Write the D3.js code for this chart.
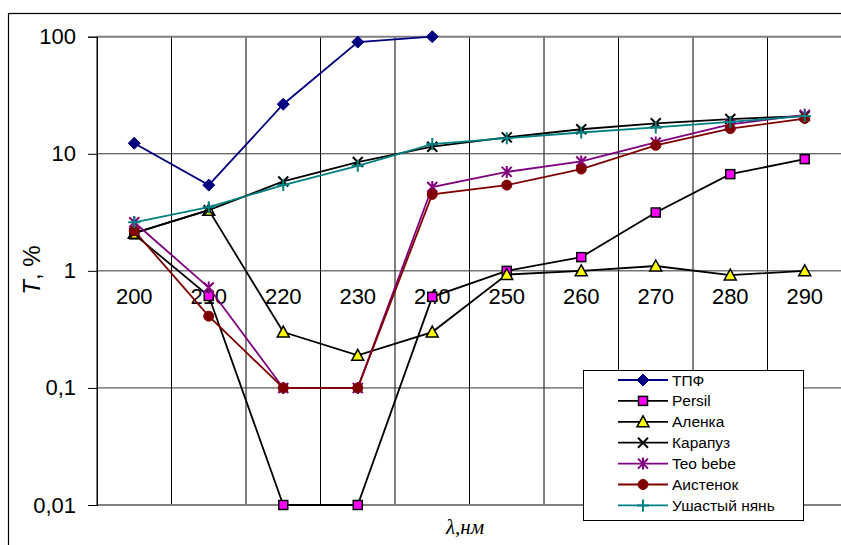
<!DOCTYPE html>
<html>
<head>
<meta charset="utf-8">
<script src="https://cdn.jsdelivr.net/npm/d3@7"></script>
<style>
  body { margin: 0; background: #fff; }
  svg { display: block; font-family: "Liberation Sans", Arial, sans-serif; }
</style>
</head>
<body>
<svg width="841" height="545"></svg>
<script>
// wavelengths, nm
var categories = [200, 210, 220, 230, 240, 250, 260, 270, 280, 290];
var yTicks = [0.01, 0.1, 1, 10, 100];

// transmission, %
var tpf      = [12.3, 5.4, 26.5, 90, 100, null, null, null, null, null];
var persil   = [2.05, 0.61, 0.01, 0.01, 0.6, 1.0, 1.31, 3.15, 6.7, 9.0];
var alenka   = [2.1, 3.3, 0.3, 0.19, 0.3, 0.93, 1.0, 1.1, 0.92, 1.0];
var karapuz  = [2.1, 3.3, 5.8, 8.5, 11.5, 13.8, 16.2, 18.2, 19.8, 21];
var teobebe  = [2.6, 0.72, 0.1, 0.1, 5.2, 7.0, 8.6, 12.5, 17.8, 21.5];
var aistenok = [2.2, 0.41, 0.1, 0.1, 4.5, 5.4, 7.4, 11.8, 16.4, 20];
var ushasty  = [2.6, 3.5, 5.4, 7.9, 12.1, 13.6, 15.2, 16.8, 18.7, 21];

var series = [
  { name: "ТПФ", values: tpf, line: "#000080", marker: "diamond", fill: "#000080", stroke: "#000080" },
  { name: "Persil", values: persil, line: "#000000", marker: "square", fill: "#ff00ff", stroke: "#000000" },
  { name: "Аленка", values: alenka, line: "#000000", marker: "triangle", fill: "#ffff00", stroke: "#000000" },
  { name: "Карапуз", values: karapuz, line: "#000000", marker: "x", fill: "none", stroke: "#000000" },
  { name: "Teo bebe", values: teobebe, line: "#800080", marker: "star", fill: "none", stroke: "#800080" },
  { name: "Аистенок", values: aistenok, line: "#800000", marker: "circle", fill: "#800000", stroke: "#800000" },
  { name: "Ушастый нянь", values: ushasty, line: "#008080", marker: "plus", fill: "none", stroke: "#008080" }
];

var svg = d3.select("svg");

// outer chart border (cut off on the right and bottom)
svg.append("rect")
  .attr("x", 8.5).attr("y", 13.5)
  .attr("width", 900).attr("height", 600)
  .attr("fill", "none").attr("stroke", "#000").attr("stroke-width", 1.2);

var pLeft = 97, pRight = 842, pTop = 36.7, pBottom = 505;

var x = d3.scaleBand().domain(categories).range([pLeft, pRight]);
var y = d3.scaleLog().domain([0.01, 100]).range([pBottom, pTop]);

var fmt = function(d) { return String(d).replace(".", ","); };

// vertical gridlines
var g = svg.append("g");
g.selectAll("line.v")
  .data(categories.concat(["end"]))
  .enter().append("line")
  .attr("x1", function(d, i) { return pLeft + i * x.bandwidth(); })
  .attr("x2", function(d, i) { return pLeft + i * x.bandwidth(); })
  .attr("y1", pTop).attr("y2", pBottom)
  .attr("stroke", "#000").attr("stroke-width", 1);

// horizontal gridlines
g.selectAll("line.h")
  .data(yTicks)
  .enter().append("line")
  .attr("x1", pLeft).attr("x2", pRight)
  .attr("y1", function(d) { return y(d); })
  .attr("y2", function(d) { return y(d); })
  .attr("stroke", function(d) { return (d == 100 || d == 0.01) ? "#808080" : "#333"; })
  .attr("stroke-width", function(d) { return (d == 100 || d == 0.01) ? 2 : 1; });

// y axis
var yAxis = d3.axisLeft(y).tickValues(yTicks).tickFormat(fmt).tickSize(9).tickPadding(12);
var ya = svg.append("g").attr("transform", "translate(" + pLeft + ",0)").call(yAxis);
ya.select(".domain").attr("stroke", "#000");
ya.selectAll("text").attr("font-size", 22).attr("font-family", "Liberation Sans, Arial, sans-serif").attr("fill", "#000");

// x axis labels sit under the 1 % line
var xAxis = d3.axisBottom(x).tickSize(0).tickPadding(18);
var xa = svg.append("g").attr("transform", "translate(0," + y(1) + ")").call(xAxis);
xa.select(".domain").remove();
xa.selectAll("text").attr("font-size", 22).attr("font-family", "Liberation Sans, Arial, sans-serif").attr("fill", "#000");

// axis titles
var yt = svg.append("text")
  .attr("transform", "translate(40,270) rotate(-90)")
  .attr("text-anchor", "middle")
  .attr("font-size", 24);
yt.append("tspan").attr("font-style", "italic").text("T");
yt.append("tspan").text(", %");

svg.append("text")
  .attr("x", 465).attr("y", 534)
  .attr("text-anchor", "middle")
  .attr("font-family", "Liberation Serif, Times New Roman, serif")
  .attr("font-style", "italic")
  .attr("font-size", 21)
  .text("λ,нм");

function drawMarker(sel, s, cx, cy) {
  var m = s.marker;
  if (m == "diamond") {
    sel.append("path").attr("d", "M" + cx + "," + (cy - 6) + "L" + (cx + 6) + "," + cy + "L" + cx + "," + (cy + 6) + "L" + (cx - 6) + "," + cy + "Z")
      .attr("fill", s.fill).attr("stroke", s.stroke).attr("stroke-width", 1);
  } else if (m == "square") {
    sel.append("rect").attr("x", cx - 4.5).attr("y", cy - 4.5).attr("width", 9).attr("height", 9)
      .attr("fill", s.fill).attr("stroke", s.stroke).attr("stroke-width", 1.5);
  } else if (m == "triangle") {
    sel.append("path").attr("d", "M" + cx + "," + (cy - 6) + "L" + (cx + 6) + "," + (cy + 5) + "L" + (cx - 6) + "," + (cy + 5) + "Z")
      .attr("fill", s.fill).attr("stroke", s.stroke).attr("stroke-width", 1.5);
  } else if (m == "x") {
    sel.append("path").attr("d", "M" + (cx - 5) + "," + (cy - 5) + "L" + (cx + 5) + "," + (cy + 5) + "M" + (cx + 5) + "," + (cy - 5) + "L" + (cx - 5) + "," + (cy + 5))
      .attr("stroke", s.stroke).attr("stroke-width", 2).attr("fill", "none");
  } else if (m == "star") {
    sel.append("path").attr("d", "M" + (cx - 5) + "," + (cy - 5) + "L" + (cx + 5) + "," + (cy + 5) + "M" + (cx + 5) + "," + (cy - 5) + "L" + (cx - 5) + "," + (cy + 5) + "M" + cx + "," + (cy - 6) + "L" + cx + "," + (cy + 6))
      .attr("stroke", s.stroke).attr("stroke-width", 2).attr("fill", "none");
  } else if (m == "circle") {
    sel.append("circle").attr("cx", cx).attr("cy", cy).attr("r", 5)
      .attr("fill", s.fill).attr("stroke", s.stroke);
  } else if (m == "plus") {
    sel.append("path").attr("d", "M" + (cx - 6) + "," + cy + "L" + (cx + 6) + "," + cy + "M" + cx + "," + (cy - 6) + "L" + cx + "," + (cy + 6))
      .attr("stroke", s.stroke).attr("stroke-width", 2).attr("fill", "none");
  }
}

var line = d3.line()
  .defined(function(d) { return d != null; })
  .x(function(d, i) { return x(categories[i]) + x.bandwidth() / 2; })
  .y(function(d) { return y(d); });

series.forEach(function(s) {
  var sg = svg.append("g");
  sg.append("path")
    .attr("d", line(s.values))
    .attr("fill", "none")
    .attr("stroke", s.line)
    .attr("stroke-width", 1.8);
  s.values.forEach(function(v, i) {
    if (v == null) return;
    drawMarker(sg, s, x(categories[i]) + x.bandwidth() / 2, y(v));
  });
});

// legend
var lg = svg.append("g");
lg.append("rect")
  .attr("x", 583.5).attr("y", 370.5).attr("width", 220).attr("height", 150)
  .attr("fill", "#fff").attr("stroke", "#000").attr("stroke-width", 1);
series.forEach(function(s, i) {
  var ly = 380 + i * 20.9;
  lg.append("line").attr("x1", 618).attr("x2", 668).attr("y1", ly).attr("y2", ly)
    .attr("stroke", s.line).attr("stroke-width", 1.8);
  drawMarker(lg, s, 643, ly);
  lg.append("text").attr("x", 672).attr("y", ly + 5.5)
    .attr("font-size", 15.5).attr("fill", "#000").text(s.name);
});
</script>
</body>
</html>
